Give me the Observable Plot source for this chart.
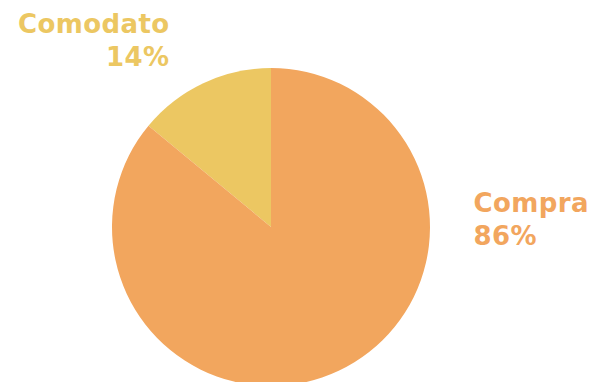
<!DOCTYPE html>
<html><head><meta charset="utf-8">
<script src="https://cdn.jsdelivr.net/npm/d3@7"></script>
<script src="https://cdn.jsdelivr.net/npm/@observablehq/plot@0.6"></script>
<style>
body{margin:0;background:#fff;}
</style>
</head><body>
<div id="chart"></div>
<script>
const categories = ["Compra", "Comodato"];
const values = [86, 14];
const colors = ["#F2A65E", "#ECC762"];

const data = categories.map((c, i) => ({category: c, value: values[i]}));
// Comodato drawn counter-clockwise from 12 o'clock, Compra takes the rest
const order = [data[1], data[0]];
const arcsCcw = (() => {
  const total = d3.sum(order, d => d.value);
  let a = 0;
  return order.map(d => {
    const start = a;
    a -= d.value / total * 2 * Math.PI;
    return {...d, startAngle: a, endAngle: start};
  });
})();

const W = 590, H = 382, R = 159, CX = 271, CY = 227;
const colorOf = d3.scaleOrdinal(categories, colors);

function pieMark(index, scales) {
  const cx = scales.x(0), cy = scales.y(0);
  const r = scales.x(1) - scales.x(0);
  const g = d3.create("svg:g").attr("transform", `translate(${cx},${cy})`);
  const arc = d3.arc().innerRadius(0).outerRadius(r);
  g.selectAll("path").data(arcsCcw).join("path")
    .attr("d", arc)
    .attr("fill", d => (scales.color ? scales.color(d.category) : colorOf(d.category)))
    .attr("stroke", "none");
  return g.node();
}

const pct = d => Math.round(d.value) + "%";
const labels = data.map(d => ({...d, text: d.category + "\n" + pct(d)}));

const chart = Plot.plot({
  width: W, height: H,
  margin: 0,
  x: {domain: [-CX / R, (W - CX) / R], range: [0, W], axis: null},
  y: {domain: [-(H - CY) / R, CY / R], range: [H, 0], axis: null},
  color: {domain: categories, range: colors},
  style: {fontFamily: "'DejaVu Sans', sans-serif", background: "#fff", letterSpacing: "0.4px"},
  marks: [
    Plot.text([labels[1]], {
      x: () => (169 - CX) / R, y: () => (CY - 9) / R,
      text: "text", fill: d => d.category, textAnchor: "end", lineAnchor: "top",
      fontSize: 26, fontWeight: 600, lineHeight: 1.27
    }),
    Plot.text([labels[0]], {
      x: () => (473 - CX) / R, y: () => (CY - 188) / R,
      text: "text", fill: d => d.category, textAnchor: "start", lineAnchor: "top",
      fontSize: 26, fontWeight: 600, lineHeight: 1.27
    }),
    pieMark
  ]
});
document.getElementById("chart").append(chart);
</script>
</body></html>
